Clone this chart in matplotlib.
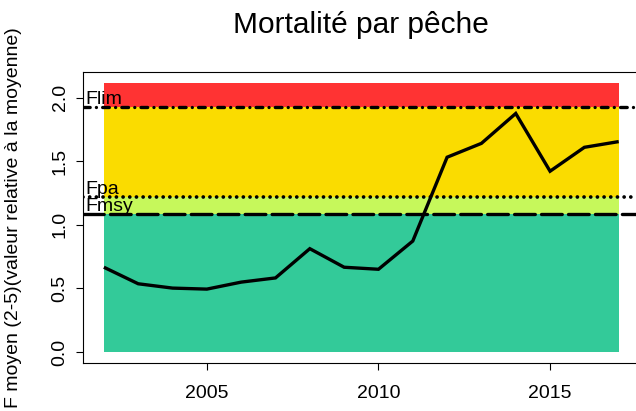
import matplotlib
matplotlib.use("Agg")
import matplotlib.pyplot as plt
from matplotlib.transforms import offset_copy

plt.rcParams['font.family'] = ['Liberation Sans', 'DejaVu Sans']
plt.rcParams['lines.scale_dashes'] = False

# data
years = [2002, 2003, 2004, 2005, 2006, 2007, 2008, 2009,
         2010, 2011, 2012, 2013, 2014, 2015, 2016, 2017]
f_rel = [0.666, 0.536, 0.502, 0.494, 0.549, 0.582, 0.812, 0.666,
         0.650, 0.872, 1.531, 1.640, 1.875, 1.421, 1.609, 1.654]

flim = 1.922
fpa = 1.216
fmsy = 1.083
ftop = 1.1 * flim

ref_names = ["Flim", "Fpa", "Fmsy"]
ref_values = [flim, fpa, fmsy]

band_colors = ["#33CA99", "#C6F85B", "#FADC00", "#FF3333"]
x0, x1 = years[0], years[-1]

fig = plt.figure(figsize=(6.36, 4.11), dpi=100)
ax = fig.add_axes([83.3 / 636, 1 - 362.7 / 411, (639.3 - 83.3) / 636, (362.7 - 72.3) / 411])

# colour zones
edges = [0, fmsy, fpa, flim, ftop]
for lo, hi, col in zip(edges[:-1], edges[1:], band_colors):
    ax.fill_between([x0, x1], lo, hi, color=col, linewidth=0, zorder=1)

lw = 2.4
# reference lines (Flim dot-dash, Fpa dotted, Fmsy long dash)
l1 = ax.axhline(flim, color="black", lw=lw, zorder=2)
l1.set_linestyle((0, (4.8, 4.5, 0.01, 4.5)))
l2 = ax.axhline(fpa, color="black", lw=lw + 0.3, zorder=2)
l2.set_linestyle((0, (0.01, 4.8)))
l3 = ax.axhline(fmsy, color="black", lw=lw, zorder=2)
l3.set_linestyle((0, (14.9, 4.5)))
for l in (l1, l2, l3):
    l.set_dash_capstyle("round")

for name, val in zip(ref_names, ref_values):
    tr = offset_copy(ax.transData, fig=fig, x=0, y=2.5, units="points")
    ax.text(2001.47, val, name, fontsize=14, ha="left", va="baseline",
            transform=tr, zorder=4)

ax.plot(years, f_rel, color="black", lw=lw, zorder=3,
        solid_joinstyle="miter", solid_capstyle="butt")

pad_y = 0.04 * ftop
ax.set_ylim(-pad_y, ftop + pad_y)
pad_x = 0.04 * (x1 - x0)
ax.set_xlim(x0 - pad_x, x1 + pad_x)

ax.set_xticks([2005, 2010, 2015])
ax.set_yticks([0.0, 0.5, 1.0, 1.5, 2.0])
ax.set_yticklabels(["0.0", "0.5", "1.0", "1.5", "2.0"])
ax.tick_params(axis="both", direction="out", length=5, width=0.8, labelsize=14)
ax.tick_params(axis="x", pad=11)
ax.tick_params(axis="y", pad=5.5, labelrotation=90)
for lab in ax.get_yticklabels():
    lab.set_va("center")

for s in ["left", "bottom", "top", "right"]:
    ax.spines[s].set_linewidth(0.8)

fig.text((83.3 + 639.3) / 2 / 636, 1 - 33 / 411, "Mortalité par pêche",
         fontsize=21.5, ha="center", va="baseline")
fig.text(14 / 636, 0.5 * (1 - 362.7 / 411 + 1 - 72.3 / 411),
         "F moyen (2-5)(valeur relative à la moyenne)",
         fontsize=14, rotation=90, ha="center", va="center")

fig.savefig("out.png", dpi=100)
